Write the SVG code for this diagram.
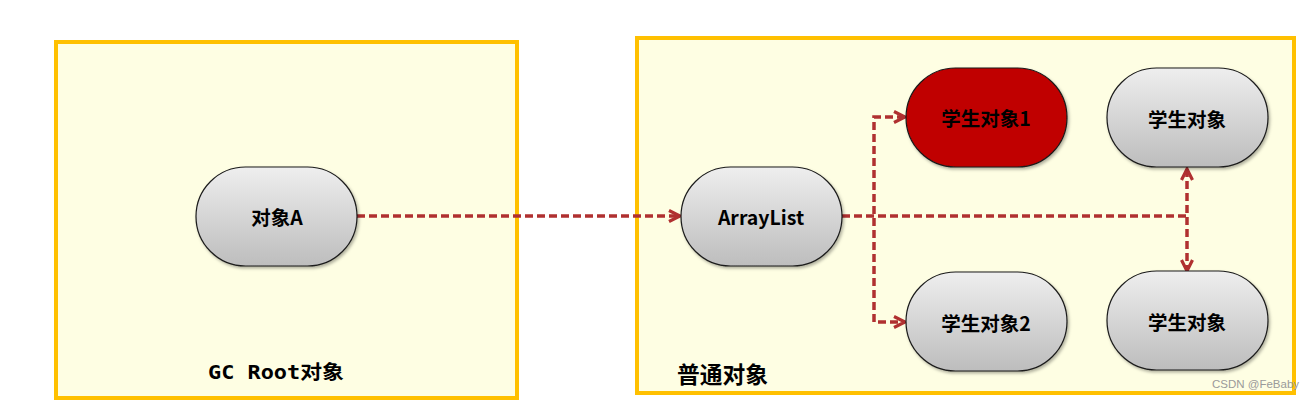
<svg xmlns="http://www.w3.org/2000/svg" width="1308" height="402" viewBox="0 0 1308 402">
  <defs>
    <linearGradient id="gray" x1="0" y1="0" x2="0" y2="1">
      <stop offset="0" stop-color="#EEEEEE"/>
      <stop offset="1" stop-color="#BDBDBD"/>
    </linearGradient>
    <filter id="sh" x="-10%" y="-10%" width="125%" height="130%">
      <feDropShadow dx="1.5" dy="2" stdDeviation="1.5" flood-color="#000" flood-opacity="0.3"/>
    </filter>
    <marker id="arr" viewBox="0 0 14 14" refX="12" refY="7" markerWidth="14" markerHeight="14" markerUnits="userSpaceOnUse" orient="auto-start-reverse">
      <path d="M1,1.5 L12,7 L1,12.5" fill="none" stroke="#B03030" stroke-width="3.2"/>
    </marker>
    <style>
      .frame { fill: #FEFEE3; stroke: #FFC000; stroke-width: 4; }
      .node { stroke: #1a1a1a; stroke-width: 1.2; filter: url(#sh); }
      .g { fill: url(#gray); }
      .red { fill: #C00000; }
      .lbl { font-family: "Noto Sans CJK SC", "Noto Sans", sans-serif; font-weight: bold; font-size: 19.5px; fill: #000; text-anchor: middle; dominant-baseline: central; }
      .title { font-family: "DejaVu Sans Mono", "Noto Sans CJK SC", monospace; font-weight: bold; fill: #000; }
      .conn { fill: none; stroke: #B03030; stroke-width: 3.5; stroke-dasharray: 8 4; }
      .wm { font-family: "Liberation Sans", Arial, sans-serif; font-size: 11.5px; fill: #9a9a9a; }
    </style>
  </defs>

  <rect x="0" y="0" width="1308" height="402" fill="#FFFFFF"/>

  <g id="frame-gcroot">
    <rect class="frame" x="56" y="42" width="461" height="356"/>
    <text class="title" x="208" y="379" font-size="19" textLength="136" lengthAdjust="spacingAndGlyphs">GC Root<tspan font-family="Noto Sans CJK SC, sans-serif">对象</tspan></text>
  </g>

  <g id="frame-normal">
    <rect class="frame" x="637" y="38" width="657" height="355"/>
    <text class="title" x="677" y="383" font-size="23" font-family="Noto Sans CJK SC, sans-serif" textLength="91" lengthAdjust="spacingAndGlyphs">普通对象</text>
  </g>

  <g id="connectors">
    <path class="conn" d="M357,216 H680" marker-end="url(#arr)"/>
    <path class="conn" d="M842,216 H1187"/>
    <path class="conn" d="M1187,169 V271" marker-start="url(#arr)" marker-end="url(#arr)"/>
    <path class="conn" d="M905,117 H874 V322 H905" marker-start="url(#arr)" marker-end="url(#arr)"/>
  </g>

  <g id="node-objA">
    <rect class="node g" x="196" y="167" width="161" height="99" rx="49.5"/>
    <text class="lbl" x="277" y="216">对象A</text>
  </g>

  <g id="node-arraylist">
    <rect class="node g" x="681" y="167" width="161" height="99" rx="49.5"/>
    <text class="lbl" x="761" y="216">ArrayList</text>
  </g>

  <g id="node-student1">
    <rect class="node red" x="906" y="68" width="161" height="99" rx="49.5"/>
    <text class="lbl" x="986" y="117">学生对象1</text>
  </g>

  <g id="node-student-top">
    <rect class="node g" x="1107" y="68" width="161" height="99" rx="49.5"/>
    <text class="lbl" x="1187" y="118">学生对象</text>
  </g>

  <g id="node-student2">
    <rect class="node g" x="906" y="272" width="161" height="99" rx="49.5"/>
    <text class="lbl" x="986" y="322">学生对象2</text>
  </g>

  <g id="node-student-bottom">
    <rect class="node g" x="1107" y="271" width="161" height="99" rx="49.5"/>
    <text class="lbl" x="1187" y="321">学生对象</text>
  </g>

  <text class="wm" x="1212" y="388">CSDN @FeBaby</text>
</svg>
